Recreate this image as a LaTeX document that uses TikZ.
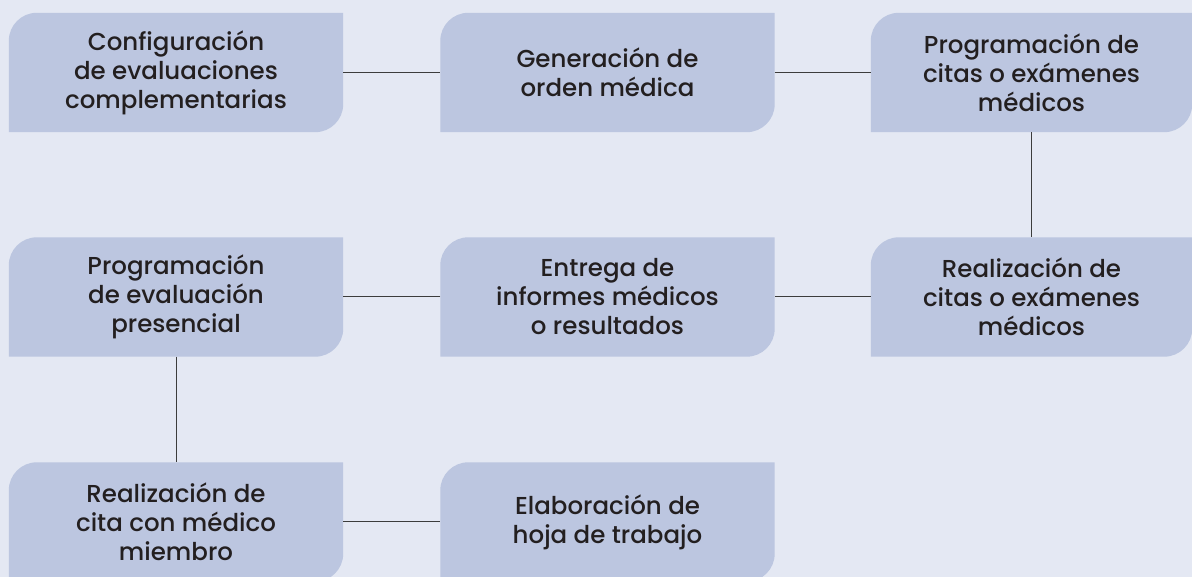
\documentclass[tikz,border=0pt]{standalone}
\usepackage{fontspec}
\setmainfont{Poppins}[UprightFont={* Medium}]
\usetikzlibrary{backgrounds}
\definecolor{bgc}{HTML}{E4E8F3}
\definecolor{boxc}{HTML}{BCC6E0}
\definecolor{txtc}{HTML}{231F20}
\definecolor{linec}{HTML}{3C3C3C}
\newcommand\leafshape[1]{%
  \fill[boxc] (#1.south west) -- ([yshift=-28pt]#1.north west)
    arc[start angle=180,end angle=90,radius=28pt] -- (#1.north east)
    -- ([yshift=28pt]#1.south east)
    arc[start angle=0,end angle=-90,radius=28pt] -- cycle;}
\begin{document}
\begin{tikzpicture}[x=1pt,y=1pt,
  stepbox/.style={inner sep=0pt, minimum height=119pt, align=center,
    text=txtc, font=\fontsize{24.5}{29}\selectfont},
  wide/.style={minimum width=334pt},
  narrow/.style={minimum width=321pt},
  conn/.style={draw=linec, line width=1pt}]
\useasboundingbox (0,0) rectangle (1192,577);
% row 1
\node[stepbox,wide] (b1) at (176,504.5) {Configuración\\de evaluaciones\\complementarias};
\node[stepbox,wide] (b2) at (607.5,504.5) {Generación de\\orden médica};
\node[stepbox,narrow] (b3) at (1031.5,504.5) {Programación de\\citas o exámenes\\médicos};
% row 2
\node[stepbox,wide] (b4) at (176,280) {Programación\\de evaluación\\presencial};
\node[stepbox,wide] (b5) at (607.5,280) {Entrega de\\informes médicos\\o resultados};
\node[stepbox,narrow] (b6) at (1031.5,280) {Realización de\\citas o exámenes\\médicos};
% row 3
\node[stepbox,wide] (b7) at (176,55) {Realización de\\cita con médico\\miembro};
\node[stepbox,wide] (b8) at (607.5,55) {Elaboración de\\hoja de trabajo};
\begin{scope}[on background layer]
  \fill[bgc] (0,0) rectangle (1192,577);
  \foreach \n in {b1,b2,b3,b4,b5,b6,b7,b8} {\leafshape{\n}}
\end{scope}
\draw[conn] (b1.east) -- (b2.west);
\draw[conn] (b2.east) -- (b3.west);
\draw[conn] (b3.south) -- (b6.north);
\draw[conn] (b6.west) -- (b5.east);
\draw[conn] (b5.west) -- (b4.east);
\draw[conn] (b4.south) -- (b7.north);
\draw[conn] (b7.east) -- (b8.west);
\end{tikzpicture}
\end{document}
